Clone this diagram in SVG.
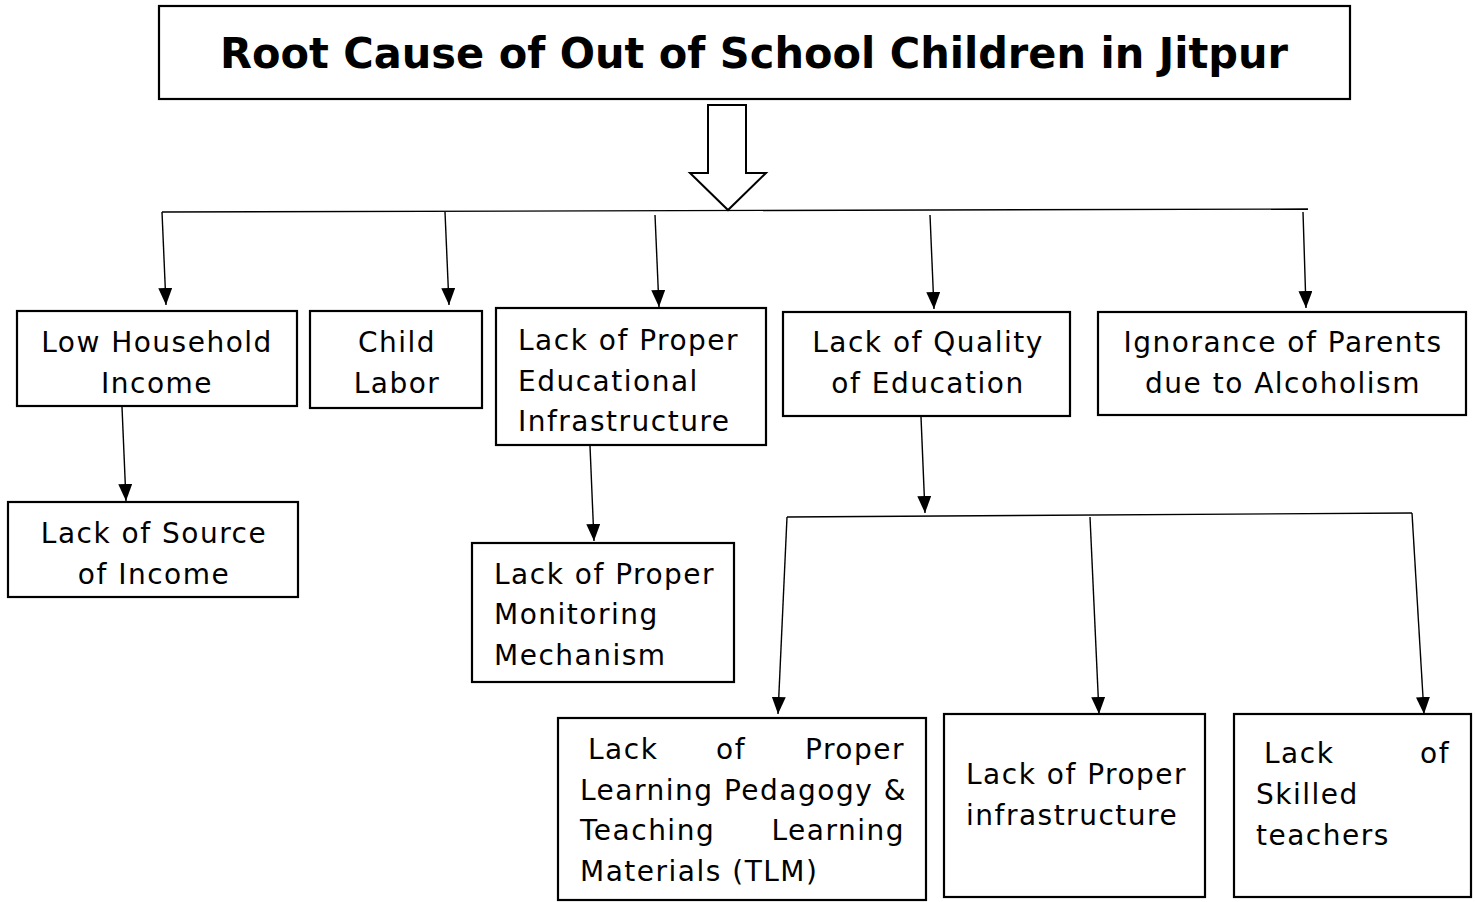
<svg xmlns="http://www.w3.org/2000/svg" width="1475" height="902" viewBox="0 0 1475 902">
<defs>
<marker id="ah" markerUnits="userSpaceOnUse" markerWidth="18" markerHeight="14" viewBox="0 0 18 14" refX="17" refY="7" orient="auto">
<path d="M0,0 L17,7 L0,14 Z" fill="#000"/>
</marker>
<style>
.b{fill:#fff;stroke:#000;stroke-width:2.2}
.c line{stroke:#000;stroke-width:1.4}
.a{marker-end:url(#ah)}
text{font-family:"DejaVu Sans","Noto Sans",sans-serif;font-size:28px;letter-spacing:1.5px;fill:#000}
.m{text-anchor:middle}
.e{text-anchor:end}
.t{font-weight:bold;font-size:42px;letter-spacing:0}
</style>
</defs>
<rect width="1475" height="902" fill="#fff"/>
<g id="title">
<rect class="b" x="159" y="6" width="1191" height="93"/>
<text class="t m" x="754" y="68" textLength="1068" lengthAdjust="spacingAndGlyphs">Root Cause of Out of School Children in Jitpur</text>
</g>
<g id="bigarrow">
<path d="M708,105 L746,105 L746,173 L766,173 L728,210 L690,173 L708,173 Z" fill="#fff" stroke="#000" stroke-width="2"/>
</g>
<g class="c" id="connectors">
<line x1="162" y1="212" x2="1308" y2="209"/>
<line class="a" x1="162" y1="212" x2="166" y2="305"/>
<line class="a" x1="445" y1="212" x2="449" y2="305"/>
<line class="a" x1="655" y1="215" x2="659" y2="307"/>
<line class="a" x1="930" y1="215" x2="934" y2="309"/>
<line class="a" x1="1303" y1="212" x2="1306" y2="308"/>
<line class="a" x1="122" y1="407" x2="126" y2="501"/>
<line class="a" x1="590" y1="446" x2="594" y2="541"/>
<line class="a" x1="921" y1="417" x2="925" y2="513"/>
<line x1="787" y1="517" x2="1412" y2="513"/>
<line class="a" x1="787" y1="517" x2="778" y2="714"/>
<line class="a" x1="1090" y1="517" x2="1099" y2="714"/>
<line class="a" x1="1412" y1="513" x2="1424" y2="714"/>
</g>
<g id="n1">
<rect class="b" x="17" y="311" width="280" height="95"/>
<text class="m" x="157" y="352">Low Household</text>
<text class="m" x="157" y="393">Income</text>
</g>
<g id="n2">
<rect class="b" x="310" y="311" width="172" height="97"/>
<text class="m" x="397" y="352">Child</text>
<text class="m" x="397" y="393">Labor</text>
</g>
<g id="n3">
<rect class="b" x="496" y="308" width="270" height="137"/>
<text x="518" y="350">Lack of Proper</text>
<text x="518" y="391">Educational</text>
<text x="518" y="431">Infrastructure</text>
</g>
<g id="n4">
<rect class="b" x="783" y="312" width="287" height="104"/>
<text class="m" x="928" y="352">Lack of Quality</text>
<text class="m" x="928" y="393">of Education</text>
</g>
<g id="n5">
<rect class="b" x="1098" y="312" width="368" height="103"/>
<text class="m" x="1283" y="352">Ignorance of Parents</text>
<text class="m" x="1283" y="393">due to Alcoholism</text>
</g>
<g id="n6">
<rect class="b" x="8" y="502" width="290" height="95"/>
<text class="m" x="154" y="543">Lack of Source</text>
<text class="m" x="154" y="584">of Income</text>
</g>
<g id="n7">
<rect class="b" x="472" y="543" width="262" height="139"/>
<text x="494" y="584">Lack of Proper</text>
<text x="494" y="624">Monitoring</text>
<text x="494" y="665">Mechanism</text>
</g>
<g id="n8">
<rect class="b" x="558" y="718" width="368" height="182"/>
<text x="588" y="759">Lack</text>
<text class="m" x="731" y="759">of</text>
<text class="e" x="905" y="759">Proper</text>
<text x="580" y="800">Learning Pedagogy &amp;</text>
<text x="580" y="840">Teaching</text>
<text class="e" x="905" y="840">Learning</text>
<text x="580" y="881">Materials (TLM)</text>
</g>
<g id="n9">
<rect class="b" x="944" y="714" width="261" height="183"/>
<text x="966" y="784">Lack of Proper</text>
<text x="966" y="825">infrastructure</text>
</g>
<g id="n10">
<rect class="b" x="1234" y="714" width="237" height="183"/>
<text x="1264" y="763">Lack</text>
<text class="e" x="1450" y="763">of</text>
<text x="1256" y="804">Skilled</text>
<text x="1256" y="845">teachers</text>
</g>
</svg>
